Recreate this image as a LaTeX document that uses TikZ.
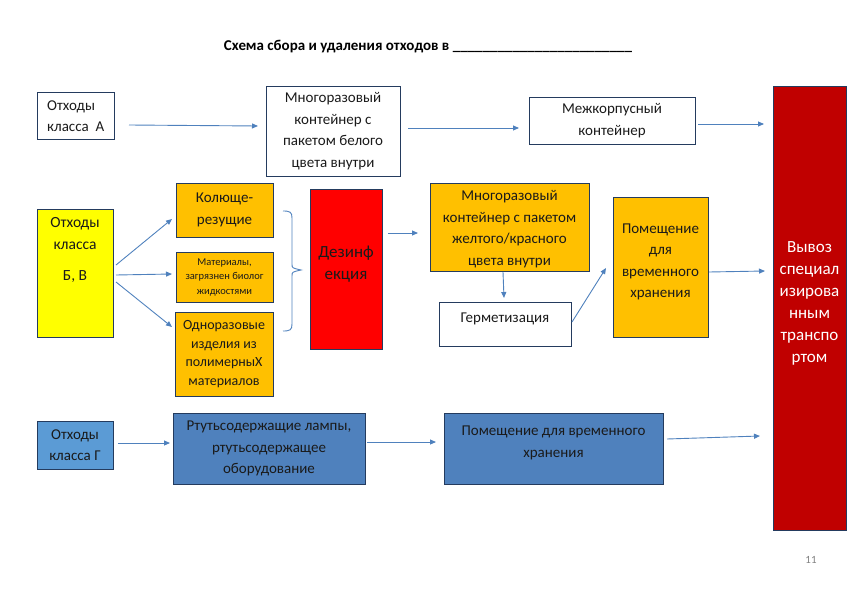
\documentclass[tikz,border=0pt]{standalone}
\usepackage{fontspec}
\setmainfont{Carlito}
\usetikzlibrary{arrows.meta}
\definecolor{edge}{HTML}{243B5E}
\definecolor{arrc}{HTML}{4F81BD}
\definecolor{yel}{HTML}{FFFF00}
\definecolor{org}{HTML}{FFC000}
\definecolor{rd}{HTML}{FF0000}
\definecolor{drd}{HTML}{C00000}
\definecolor{lblue}{HTML}{5B9BD5}
\definecolor{mblue}{HTML}{4F81BD}
\definecolor{txt}{HTML}{1A1A1A}
\newcommand\myfs[2]{\fontsize{#1}{#2}\selectfont}
\tikzset{
  box/.style={draw=edge, line width=0.8pt, inner sep=0pt, outer sep=0pt, align=center, text=txt, font=\myfs{15}{21.5}},
  lbl/.style={inner sep=0pt, align=center, text=txt, font=\myfs{15}{21.5}},
  arr/.style={draw=arrc, line width=0.9pt, -{Triangle[length=6pt,width=5pt]}},
  brace/.style={draw=arrc, line width=0.9pt}
}
\begin{document}
\begin{tikzpicture}[x=1pt,y=-1pt]
\useasboundingbox (0,0) rectangle (867,594);
% title
\node[inner sep=0pt, font=\bfseries\myfs{15}{18}, text=black] (title) at (428,47)
  {Схема сбора и удаления отходов в \_\_\_\_\_\_\_\_\_\_\_\_\_\_\_\_\_\_\_\_\_\_\_\_};
% row A
\node[box, minimum width=77, minimum height=47] (A) at (75.5,115.5) {};
\node[lbl, align=left, anchor=west] (Atxt) at (47,116) {Отходы\\класса\ \ А};
\node[box, minimum width=134, minimum height=90] (multi) at (333,131)
  {Многоразовый\\контейнер с\\пакетом белого\\цвета внутри};
\node[box, minimum width=166, minimum height=47] (mezh) at (612,120.5)
  {Межкорпусный\\контейнер};
% transport
\node[box, fill=drd, minimum width=73, minimum height=444] (trans) at (809.5,308) {};
\node[lbl, text=white, font=\myfs{17}{22}] (transtxt) at (809.5,303)
  {Вывоз\\специал\\изирова\\нным\\транспо\\ртом};
% row B
\node[box, fill=yel, minimum width=76, minimum height=128] (BV) at (75,273) {};
\node[lbl, font=\myfs{15.5}{22}] (BVtxt) at (75,250) {Отходы\\класса\\[9pt]Б, В};
\node[box, fill=org, minimum width=97, minimum height=54] (kol) at (224.5,210)
  {Колюще-\\резущие};
\node[box, fill=org, minimum width=97, minimum height=50, font=\myfs{10.5}{14.5}] (mat) at (224.5,277)
  {Материалы,\\загрязнен биолог\\жидкостями};
\node[box, fill=org, minimum width=98, minimum height=84, font=\myfs{14}{18.7}] (odn) at (224,354)
  {Одноразовые\\изделия из\\полимерныХ\\материалов};
\node[box, fill=rd, minimum width=72, minimum height=160] (dez) at (346,269) {};
\node[lbl, font=\myfs{17}{22}] (deztxt) at (346,264) {Дезинф\\екция};
\node[box, fill=org, minimum width=159, minimum height=88] (ym) at (509.5,227) {};
\node[lbl] (ymtxt) at (509.5,229)
  {Многоразовый\\контейнер с пакетом\\желтого/красного\\цвета внутри};
\node[box, minimum width=132, minimum height=44] (germ) at (505,324) {};
\node[lbl] (germtxt) at (505,319) {Герметизация};
\node[box, fill=org, minimum width=95, minimum height=140] (pom) at (660.5,267) {};
\node[lbl] (pomtxt) at (660.5,262) {Помещение\\для\\временного\\хранения};
% row G
\node[box, fill=lblue, minimum width=76, minimum height=48] (G) at (75,445)
  {\myfs{15}{23}Отходы\\класса Г};
\node[box, fill=mblue, minimum width=192, minimum height=71] (rt) at (269,448.5)
  {Ртутьсодержащие лампы,\\ртутьсодержащее\\оборудование};
\node[box, fill=mblue, minimum width=219, minimum height=71] (pd) at (553.5,448.5) {};
\node[lbl] (pdtxt) at (553.5,443) {Помещение для временного\\хранения};
% page number
\node[inner sep=0pt, text=gray, font=\myfs{11}{13}] (page) at (811,560) {11};
% arrows
\draw[arr] ([shift={(15,9.5)}]A.east) -- ([shift={(-8,-5)}]multi.west);
\draw[arr] ([shift={(8,-3)}]multi.east) -- ([shift={(-10,7.5)}]mezh.west);
\draw[arr] ([shift={(3,3.5)}]mezh.east) -- ([shift={(-9,3.5)}]mezh.east -| trans.west);
\draw[arr] ([shift={(3,-8)}]BV.east) -- ([shift={(-4,9)}]kol.west);
\draw[arr] ([shift={(3,2)}]BV.east) -- ([shift={(-4,-3)}]mat.west);
\draw[arr] ([shift={(3,9)}]BV.east) -- ([shift={(-3,-27)}]odn.west);
\draw[brace] (283,211) .. controls (290,211) and (292,212) .. (292,218) -- (292,264)
  .. controls (292,268) .. (301,270) .. controls (292,272) .. (292,276) -- (292,324)
  .. controls (292,330) and (290,331) .. (283,331);
\draw[arr] ([shift={(6,-36)}]dez.east) -- ([shift={(-12,6)}]ym.west);
\draw[arr] ([shift={(-6.5,1)}]ym.south) -- ([shift={(-1,-4)}]germ.north);
\draw[arr] ([shift={(1,-2)}]germ.east) -- ([shift={(-7,1)}]pom.west);
\draw[arr] ([shift={(1,5)}]pom.east) -- ([shift={(-8,4)}]pom.east -| trans.west);
\draw[arr] ([shift={(5,-2)}]G.east) -- ([shift={(-3,-5.5)}]rt.west);
\draw[arr] ([shift={(2,-6.5)}]rt.east) -- ([shift={(-8,-6.5)}]pd.west);
\draw[arr] ([shift={(4,-9.5)}]pd.east) -- ([shift={(-13,-12.5)}]pd.east -| trans.west);
\end{tikzpicture}
\end{document}
